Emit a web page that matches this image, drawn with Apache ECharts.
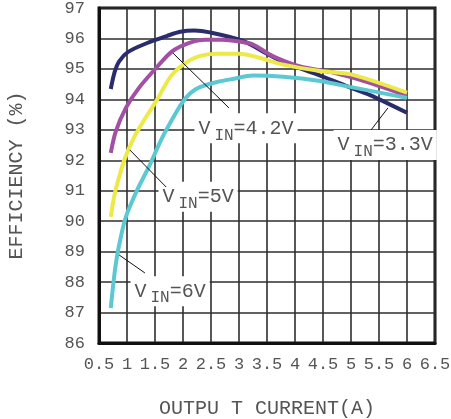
<!DOCTYPE html>
<html>
<head>
<meta charset="utf-8">
<script src="https://cdn.jsdelivr.net/npm/echarts@6/dist/echarts.min.js"></script>
<style>
  html, body { margin: 0; padding: 0; background: #fff; }
  #chart { width: 451px; height: 419px; }
</style>
</head>
<body>
<div id="chart"></div>
<script>
// Efficiency vs. output current for four input voltages: [current (A), efficiency (%)]
const vin33 = [[0.71,94.34],[0.78,94.9],[0.86,95.25],[1.02,95.56],[1.36,95.85],[1.71,96.08],[1.95,96.22],[2.2,96.26],[2.48,96.2],[3.07,95.92],[3.5,95.5],[3.8,95.22],[4.45,94.78],[5.0,94.38],[5.34,94.14],[6.0,93.56]];
const vin42 = [[0.71,92.24],[0.8,92.95],[0.98,93.72],[1.21,94.37],[1.52,95.03],[1.8,95.57],[2.1,95.85],[2.4,95.96],[2.7,95.96],[3.0,95.9],[3.25,95.8],[3.6,95.42],[4.09,95.08],[4.68,94.88],[5.29,94.57],[6.0,94.12]];
const vin5 = [[0.71,90.14],[0.76,90.7],[0.8,91.05],[0.95,92.0],[1.13,92.77],[1.34,93.42],[1.54,94.0],[1.79,94.78],[2.05,95.2],[2.29,95.42],[2.6,95.5],[3.0,95.5],[3.38,95.36],[3.79,95.14],[4.45,94.93],[5.0,94.82],[6.0,94.22]];
const vin6 = [[0.71,87.15],[0.77,88.17],[0.82,88.83],[0.89,89.48],[0.98,90.14],[1.18,91.02],[1.39,91.78],[1.61,92.67],[1.8,93.32],[1.98,93.88],[2.13,94.2],[2.3,94.4],[2.61,94.57],[2.89,94.67],[3.25,94.78],[3.79,94.74],[4.45,94.6],[4.98,94.41],[6.0,94.05]];

// Annotation text suffixes and anchor points
const vinNames = ['=3.3V', '=4.2V', '=5V', '=6V'];
const labelAt = [[5.61, 92.5], [3.125, 93.05], [2.27, 90.8], [1.77, 87.7]];
const leaderLines = [
  [[5.66, 93.72], [5.36, 93.0]],
  [[1.82, 95.52], [2.82, 93.72]],
  [[1.05, 92.34], [1.70, 91.12]],
  [[0.86, 88.89], [1.32, 88.3]]
];

const MONO = '"Liberation Mono", "DejaVu Sans Mono", monospace';
const TEXT = '#555';

const richStyle = {
  v: { fontFamily: MONO, fontSize: 20, color: TEXT, lineHeight: 30, verticalAlign: 'middle' },
  s: { fontFamily: MONO, fontSize: 16, color: TEXT, lineHeight: 30, verticalAlign: 'bottom', padding: [0, 0, 0, 4] }
};

function seriesFor(data, color, idx) {
  return {
    type: 'line',
    data: data,
    smooth: 0.3,
    symbol: 'none',
    lineStyle: { color: color, width: 4 },
    z: 3,
    markPoint: {
      silent: true,
      symbol: 'rect',
      symbolSize: 1,
      itemStyle: { color: 'rgba(0,0,0,0)' },
      z: 5,
      label: {
        show: true,
        position: 'inside',
        backgroundColor: '#fff',
        padding: [0, 4, 0, 4],
        formatter: '{v|V}{s|IN}{v|' + vinNames[idx] + '}',
        rich: richStyle
      },
      data: [{ coord: labelAt[idx] }]
    },
    markLine: {
      silent: true,
      symbol: ['none', 'none'],
      label: { show: false },
      lineStyle: { color: '#111', width: 1, type: 'solid' },
      z: 6,
      data: [[{ coord: leaderLines[idx][0] }, { coord: leaderLines[idx][1] }]]
    }
  };
}

const chart = echarts.init(document.getElementById('chart'));
chart.setOption({
  animation: false,
  backgroundColor: '#fff',
  grid: {
    left: 99, right: 16, top: 8, bottom: 76,
    outerBoundsMode: 'none',
    containLabel: false,
    show: true, borderColor: '#111', borderWidth: 3, backgroundColor: 'transparent'
  },
  xAxis: {
    type: 'value',
    min: 0.5, max: 6.5, interval: 0.5,
    name: 'OUTPU T CURRENT(A)',
    nameLocation: 'middle',
    nameGap: 56,
    nameTextStyle: { fontFamily: MONO, fontSize: 20, color: TEXT },
    axisLine: { show: true, lineStyle: { color: '#111', width: 3 } },
    axisTick: { show: false },
    axisLabel: { fontFamily: MONO, fontSize: 17, color: TEXT, margin: 13, interval: 0, hideOverlap: false },
    splitLine: { show: true, lineStyle: { color: '#2e2e2e', width: 1.6 } }
  },
  yAxis: {
    type: 'value',
    min: 86, max: 97, interval: 1,
    name: 'EFFICIENCY (%)',
    nameLocation: 'middle',
    nameGap: 72,
    nameRotate: 90,
    nameTextStyle: { fontFamily: MONO, fontSize: 20, color: TEXT },
    axisLine: { show: true, lineStyle: { color: '#111', width: 3 } },
    axisTick: { show: false },
    axisLabel: { fontFamily: MONO, fontSize: 17, color: TEXT, margin: 14 },
    splitLine: { show: true, lineStyle: { color: '#2e2e2e', width: 1.6 } }
  },
  series: [
    seriesFor(vin33, '#2b2c6c', 0),
    seriesFor(vin42, '#a24fa4', 1),
    seriesFor(vin5, '#ebea48', 2),
    seriesFor(vin6, '#5cc8d2', 3)
  ]
});
</script>
</body>
</html>
